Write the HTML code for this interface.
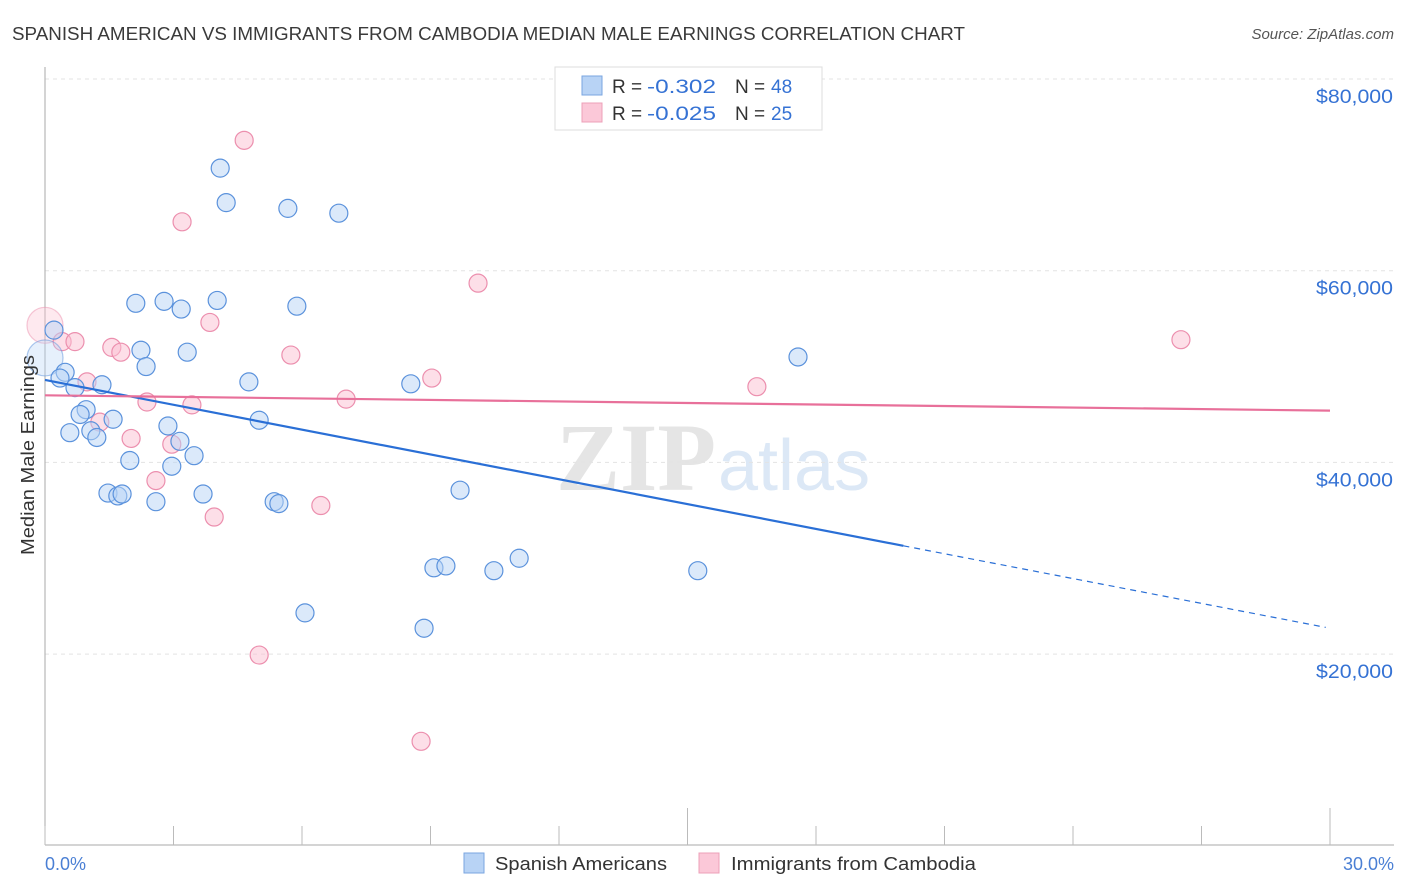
<!DOCTYPE html>
<html><head><meta charset="utf-8">
<style>
body{margin:0;background:#fff;font-family:"Liberation Sans",sans-serif;}
#wrap{position:relative;width:1406px;height:892px;overflow:hidden;}
</style></head>
<body>
<div id="wrap">
<svg id="svg" width="1406" height="892" xmlns="http://www.w3.org/2000/svg">
<text x="12" y="40" font-size="18" fill="#3a3a3a" textLength="953" lengthAdjust="spacingAndGlyphs">SPANISH AMERICAN VS IMMIGRANTS FROM CAMBODIA MEDIAN MALE EARNINGS CORRELATION CHART</text>
<text x="1394" y="39" font-size="15" fill="#555" text-anchor="end" font-style="italic">Source: ZipAtlas.com</text>
<text x="716" y="490" font-size="96" fill="#e5e5e5" text-anchor="end" font-family="Liberation Serif, serif" font-weight="bold">ZIP</text>
<text x="718" y="490" font-size="72" fill="#dce8f6">atlas</text>
<g id="grid"></g>
<g id="axes"></g>
<g id="marks"></g>
<text transform="translate(34,455) rotate(-90)" font-size="18" fill="#333" text-anchor="middle" textLength="200" lengthAdjust="spacingAndGlyphs">Median Male Earnings</text>
<text x="45" y="870" font-size="18" fill="#4a7fd4">0.0%</text>
<text x="1394" y="870" font-size="18" fill="#4a7fd4" text-anchor="end">30.0%</text>
<g>
<rect x="464" y="853" width="20" height="20" fill="#b8d3f5" stroke="#7aa6e0"/>
<text x="495" y="870" font-size="18" fill="#333" textLength="172" lengthAdjust="spacingAndGlyphs">Spanish Americans</text>
<rect x="699" y="853" width="20" height="20" fill="#fbc8d8" stroke="#eda0b8"/>
<text x="731" y="870" font-size="18" fill="#333" textLength="245" lengthAdjust="spacingAndGlyphs">Immigrants from Cambodia</text>
</g>
<g>
<rect x="555" y="67" width="267" height="63" fill="#fff" stroke="#ddd"/>
<rect x="582" y="76" width="20" height="19" fill="#b8d3f5" stroke="#7aa6e0"/>
<text x="612" y="93" font-size="19" fill="#333">R =</text>
<text x="647" y="93" font-size="19" fill="#3572d4" textLength="69" lengthAdjust="spacingAndGlyphs">-0.302</text>
<text x="735" y="93" font-size="19" fill="#333">N =</text>
<text x="771" y="93" font-size="19" fill="#3572d4">48</text>
<rect x="582" y="103" width="20" height="19" fill="#fbc8d8" stroke="#eda0b8"/>
<text x="612" y="120" font-size="19" fill="#333">R =</text>
<text x="647" y="120" font-size="19" fill="#3572d4" textLength="69" lengthAdjust="spacingAndGlyphs">-0.025</text>
<text x="735" y="120" font-size="19" fill="#333">N =</text>
<text x="771" y="120" font-size="19" fill="#3572d4">25</text>
</g>
</svg>
</div>
<script>
const yTicks=[20000,40000,60000,80000];
const yTickLabels=["$20,000","$40,000","$60,000","$80,000"];
const blueX=[0.21,0.0,0.47,0.35,0.70,1.33,0.96,0.82,1.59,0.58,1.07,1.21,1.98,1.47,1.70,1.80,2.59,2.12,2.78,3.18,4.02,2.24,2.36,3.32,4.09,4.23,5.67,6.86,5.88,4.76,5.00,2.87,3.15,3.48,2.96,3.69,5.35,5.46,8.54,9.69,9.08,9.36,10.48,11.07,6.07,8.85,15.24,17.58];
const blueY=[53800,50900,49400,48800,47800,48100,45500,45000,44500,43100,43300,42600,40200,36800,36500,36700,35900,56600,56800,56000,56900,51700,50000,51500,70700,67100,66500,66000,56300,48400,44400,43800,42200,40700,39600,36700,35900,35700,48200,37100,29000,29200,28700,30000,24300,22700,28700,51000];
const blueR=[9,18,9,9,9,9,9,9,9,9,9,9,9,9,9,9,9,9,9,9,9,9,9,9,9,9,9,9,9,9,9,9,9,9,9,9,9,9,9,9,9,9,9,9,9,9,9,9];
const pinkX=[0,0.40,0.70,1.56,1.77,0.98,2.38,3.43,1.28,2.01,2.96,2.59,3.95,3.85,3.20,4.65,5.74,7.03,6.44,9.03,10.11,16.62,26.52,5.00,8.78];
const pinkY=[54300,52600,52600,52000,51500,48400,46300,46000,44200,42500,41900,38100,34300,54600,65100,73600,51200,46600,35500,48800,58700,47900,52800,19900,10900];
const pinkR=[18,9,9,9,9,9,9,9,9,9,9,9,9,9,9,9,9,9,9,9,9,9,9,9,9];
const blueTrend=[48600,22700];
const blueSolidEnd=20.04;
const pinkTrend=[47000,45400];

const NS="http://www.w3.org/2000/svg";
const X=v=>45+v/30*1285;
const Y=v=>79+(80000-v)/20000*191.7;
function mk(tag,attrs,parent){const e=document.createElementNS(NS,tag);for(const k in attrs)e.setAttribute(k,attrs[k]);parent.appendChild(e);return e;}
const grid=document.getElementById('grid'),axes=document.getElementById('axes'),marks=document.getElementById('marks');
yTicks.forEach((t,i)=>{
  const l=mk('line',{x1:45,x2:1394,y1:Y(t),y2:Y(t),stroke:'#e3e3e3','stroke-dasharray':'4,4'},grid);
  
  
  const tx=mk('text',{x:1393,y:Y(t)+24,'font-size':19,fill:'#3572d4','text-anchor':'end',textLength:77,lengthAdjust:'spacingAndGlyphs'},grid);
  tx.textContent=yTickLabels[i];
  
  
});
const ya=mk('line',{x1:45,x2:45,y1:67,y2:845,stroke:'#aaa'},axes);


const xa=mk('line',{x1:45,x2:1394,y1:845,y2:845,stroke:'#aaa'},axes);


for(let i=0;i<=10;i++){
  const v=i*3,tall=(i==5||i==10);
  const t=mk('line',{x1:X(v),x2:X(v),y1:tall?808:826,y2:845,stroke:'#bbb'},axes);
  
  
}
function dots(xs,ys,rs,fill,stroke,name){
  xs.forEach((x,i)=>{
    const big=rs[i]>12;
    const c=mk('circle',{cx:X(x),cy:Y(ys[i]),r:rs[i],fill:fill,'fill-opacity':big?0.35:0.5,stroke:stroke,'stroke-opacity':big?0.5:1,'stroke-width':1.2},marks);
    
    
  });
}
dots(pinkX,pinkY,pinkR,'#fbc0d2','#ec8fae','point-cambodia');
dots(blueX,blueY,blueR,'#b8d3f5','#5b92dc','point-spanish');
const by=x=>blueTrend[0]+(blueTrend[1]-blueTrend[0])*x/30;
const bl=mk('line',{x1:X(0),y1:Y(by(0)),x2:X(blueSolidEnd),y2:Y(by(blueSolidEnd)),stroke:'#2a6fd6','stroke-width':2.2},marks);


const bd=mk('line',{x1:X(blueSolidEnd),y1:Y(by(blueSolidEnd)),x2:X(29.9),y2:Y(by(29.9)),stroke:'#2a6fd6','stroke-width':1.2,'stroke-dasharray':'6,5'},marks);


const pl=mk('line',{x1:X(0),y1:Y(pinkTrend[0]),x2:X(30),y2:Y(pinkTrend[1]),stroke:'#e8709a','stroke-width':2.2},marks);


</script>
</body></html>
